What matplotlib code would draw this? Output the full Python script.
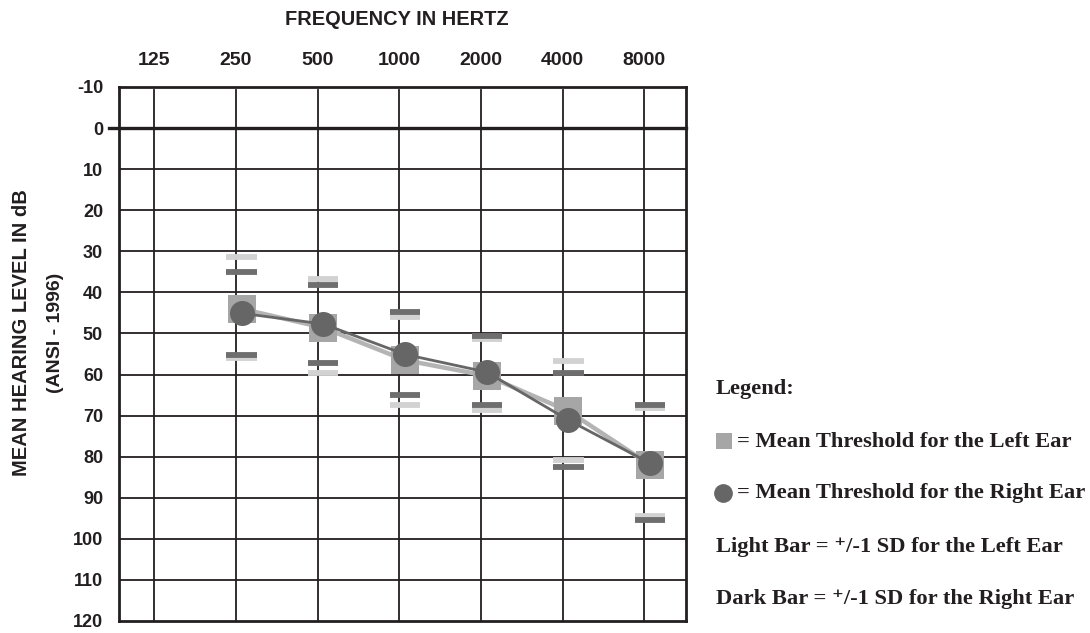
import numpy as np
import matplotlib
matplotlib.use("Agg")
import matplotlib.pyplot as plt
from matplotlib.lines import Line2D

plt.rcParams['font.family'] = ['Liberation Sans', 'DejaVu Sans']
plt.rcParams['axes.unicode_minus'] = False

# audiogram: mean thresholds and +/-1 SD bars per frequency
freq_labels = ['125', '250', '500', '1000', '2000', '4000', '8000']
db_ticks = list(range(-10, 130, 10))

data_freqs = ['250', '500', '1000', '2000', '4000', '8000']
left_mean = [44.0, 48.6, 56.5, 60.3, 68.9, 82.0]
right_mean = [45.1, 47.7, 55.1, 59.4, 71.1, 81.6]
left_sd_upper = [31.5, 36.7, 45.9, 51.4, 56.7, 68.2]
left_sd_lower = [55.9, 59.7, 67.4, 68.6, 80.9, 94.5]
right_sd_upper = [35.0, 38.1, 44.8, 50.6, 59.7, 67.4]
right_sd_lower = [55.2, 57.1, 65.0, 67.5, 82.4, 95.5]

light_col = '#a6a6a6'
line_light = '#b4b4b4'
dark_col = '#666666'
bar_light = '#d2d2d2'
bar_dark = '#6e6e6e'
grid_col = '#231f20'

fig = plt.figure(figsize=(10.9, 6.33), dpi=100)
ax = fig.add_axes([0.1092, 0.019, 0.5202, 0.8436])

xpos = np.array([freq_labels.index(f) for f in data_freqs]) + 0.07

# grid
for i in range(len(freq_labels)):
    ax.plot([i, i], [-9.3, 120], color=grid_col, lw=1.3, zorder=1)
for d in range(10, 120, 10):
    ax.axhline(d, color=grid_col, lw=1.3, zorder=1)
ax.plot([-0.55, 6.51], [0, 0], color=grid_col, lw=2.4, zorder=1, clip_on=False)

# SD bars
hw = 0.185
ax.hlines(left_sd_upper, xpos - hw, xpos + hw, color=bar_light, lw=4.2, zorder=2)
ax.hlines(left_sd_lower, xpos - hw, xpos + hw, color=bar_light, lw=4.2, zorder=2)
ax.hlines(right_sd_upper, xpos - hw, xpos + hw, color=bar_dark, lw=4.2, zorder=2.5)
ax.hlines(right_sd_lower, xpos - hw, xpos + hw, color=bar_dark, lw=4.2, zorder=2.5)

# means
ax.plot(xpos, left_mean, color=line_light, lw=3.2, zorder=3)
ax.plot(xpos, left_mean, ls='none', marker='s', ms=20, color=light_col, mew=0, zorder=3.5)
ax.plot(xpos, right_mean, color=dark_col, lw=2.0, zorder=4)
ax.plot(xpos, right_mean, ls='none', marker='o', ms=18, color=dark_col, mew=0, zorder=5)

ax.set_xlim(-0.43, 6.51)
ax.set_ylim(120, -10)
ax.set_xticks(range(len(freq_labels)))
ax.set_xticklabels(freq_labels)
ax.xaxis.tick_top()
ax.set_yticks(db_ticks)
ax.tick_params(axis='both', length=0)
ax.tick_params(axis='x', pad=13, labelsize=14)
ax.tick_params(axis='y', pad=11.5, labelsize=13)
for lab in ax.get_xticklabels() + ax.get_yticklabels():
    lab.set_fontweight('bold')
    lab.set_color('#231f20')
for s in ax.spines.values():
    s.set_linewidth(2.0)
    s.set_color(grid_col)

fig.text(0.364, 0.969, 'FREQUENCY IN HERTZ', ha='center', va='center',
         fontsize=14.4, fontweight='bold', color='#231f20')
fig.text(0.0195, 0.474, 'MEAN HEARING LEVEL IN dB', rotation=90, ha='center', va='center',
         fontsize=14.5, fontweight='bold', color='#231f20')
fig.text(0.0505, 0.474, '(ANSI - 1996)', rotation=90, ha='center', va='center',
         fontsize=14, fontweight='bold', color='#231f20')

# legend text block
serif = dict(family=['Liberation Serif', 'DejaVu Serif', 'DejaVu Sans'], fontweight='bold',
             fontsize=16.2, color='#231f20')
fig.text(0.657, 1 - 389 / 633, 'Legend:', ha='left', va='center', **serif)
fig.text(0.676, 1 - 442 / 633, '= Mean Threshold for the Left Ear', ha='left', va='center', **serif)
fig.text(0.676, 1 - 493 / 633, '= Mean Threshold for the Right Ear', ha='left', va='center', **serif)
fig.text(0.657, 1 - 547 / 633, 'Light Bar = \u207a/-1 SD for the Left Ear', ha='left', va='center', **serif)
fig.text(0.657, 1 - 599 / 633, 'Dark Bar = \u207a/-1 SD for the Right Ear', ha='left', va='center', **serif)
fig.add_artist(Line2D([0.6645], [1 - 441 / 633], marker='s', ms=11.5, color=light_col, mew=0,
                      transform=fig.transFigure))
fig.add_artist(Line2D([0.6635], [1 - 493 / 633], marker='o', ms=13.5, color=dark_col, mew=0,
                      transform=fig.transFigure))

fig.savefig('out.png', dpi=100)
